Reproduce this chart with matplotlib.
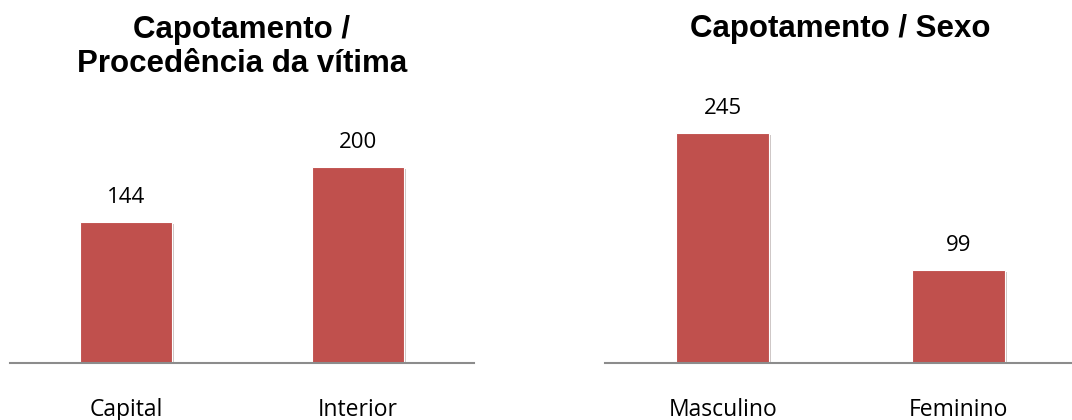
import matplotlib
matplotlib.use("Agg")
import matplotlib.pyplot as plt
import matplotlib.patheffects as pe

# dados
cat_proc = ["Capital", "Interior"]
val_proc = [144, 200]
cat_sexo = ["Masculino", "Feminino"]
val_sexo = [245, 99]

cor_barra = "#C0504D"
W, H = 1072, 420

fig = plt.figure(figsize=(W / 100, H / 100), dpi=100)


def painel(rect, cats, vals, titulo, ytop, title_y):
    ax = fig.add_axes(rect)
    x = range(len(cats))
    bars = ax.bar(x, vals, width=0.395, color=cor_barra, edgecolor="white",
                  linewidth=0.8, zorder=3)
    for b in bars:
        b.set_path_effects([pe.SimplePatchShadow(offset=(1.5, -1.5), alpha=0.25),
                            pe.Normal()])
    for xi, v in zip(x, vals):
        ax.annotate(str(v), (xi, v), xytext=(0, 10), textcoords="offset points",
                    ha="center", va="bottom", fontsize=16, family="Open Sans")
    ax.set_xlim(-0.5, len(cats) - 0.5)
    ax.set_ylim(0, ytop)
    ax.set_xticks(list(x))
    ax.set_xticklabels(cats, fontsize=16.5, family="Open Sans")
    ax.tick_params(axis="x", length=0, pad=25)
    ax.set_yticks([])
    for s in ["top", "right", "left"]:
        ax.spines[s].set_visible(False)
    ax.spines["bottom"].set_color("#8c8c8c")
    ax.spines["bottom"].set_linewidth(1.5)
    ax.spines["bottom"].set_zorder(4)
    cx = rect[0] + rect[2] / 2
    fig.text(cx, title_y, titulo, ha="center", va="center", fontsize=22.5,
             fontweight="bold", family="Liberation Sans", linespacing=1.2)
    return ax


# pixel geometry: baseline at y=363, top at y=100
bottom = (H - 363) / H
height = (363 - 100) / H

painel([10 / W, bottom, 464 / W, height], cat_proc, val_proc,
       "Capotamento /\nProcedência da vítima", 263 / 0.98, 1 - 47 / H)
painel([605 / W, bottom, 471 / W, height], cat_sexo, val_sexo,
       "Capotamento / Sexo", 263 / 0.94, 1 - 29 / H)

fig.savefig("out.png", dpi=100)
